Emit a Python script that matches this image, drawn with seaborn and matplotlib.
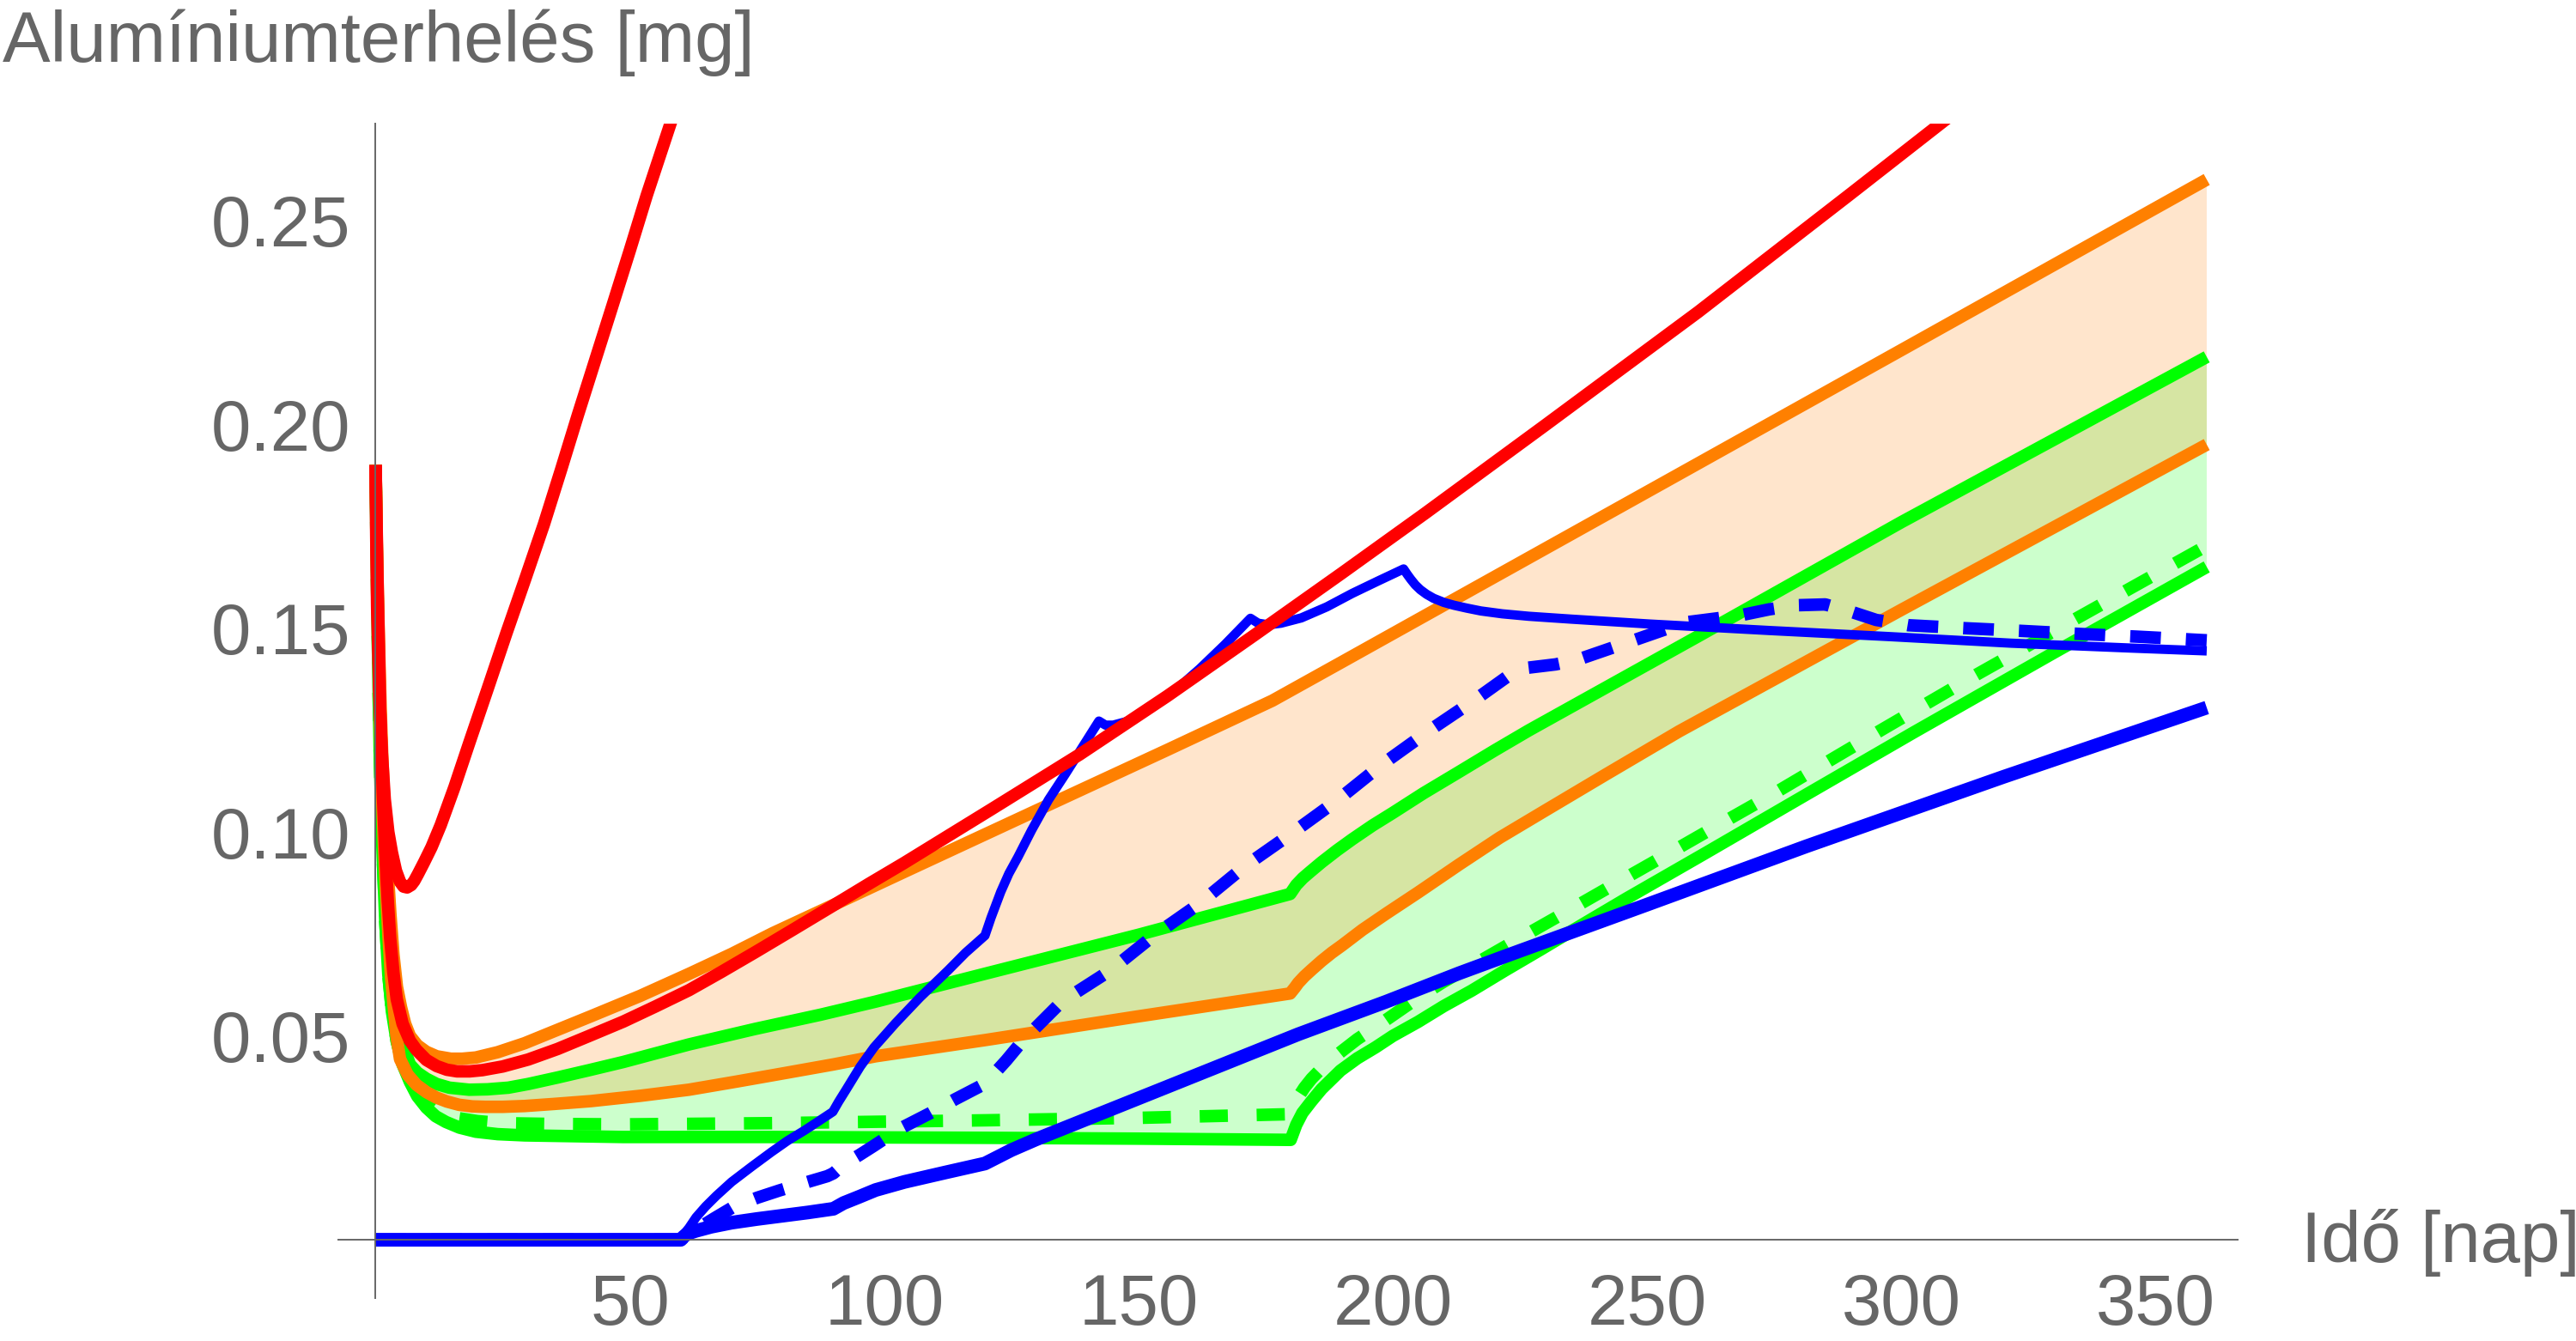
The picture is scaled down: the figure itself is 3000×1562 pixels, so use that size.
import numpy as np
import matplotlib
matplotlib.use("Agg")
import matplotlib.pyplot as plt
import seaborn as sns
from matplotlib.ticker import FixedLocator, MultipleLocator, FormatStrFormatter

# ---------------- data ----------------
days_red_steep = [0, 0.1, 0.3, 0.7, 1.2, 1.8, 2.5, 3.2, 4.0, 4.8, 5.5, 6.2, 7.0, 7.6, 8.3, 9.5, 11, 12.8,
                  15.5, 18.4, 22, 25.7, 29.4, 33.1, 36.5, 39.8, 43.2, 46.6, 50, 53.3, 58.1, 60.0]
red_steep = [0.190, 0.175, 0.155, 0.135, 0.120, 0.108, 0.100, 0.095, 0.0905, 0.0878, 0.0866, 0.0864,
             0.0870, 0.0880, 0.0896, 0.0925, 0.0963, 0.1017, 0.1110, 0.1218, 0.1350, 0.1487, 0.1620,
             0.1755, 0.1890, 0.2024, 0.2158, 0.2292, 0.2427, 0.2561, 0.2742, 0.2820]

days_red = [0, 0.2, 0.4, 0.65, 0.9, 1.15, 1.4, 1.9, 2.4, 2.86, 3.5, 4.16, 5.3, 6.74, 8, 9.97, 12, 14, 16,
            18.5, 21, 25, 30, 35.8, 42, 48.7, 55, 61.6, 68, 74.6, 82, 90, 97, 103.9, 121.1, 138.4, 155.6,
            172.8, 190, 206.4, 230, 260, 290, 310]
red_b = [0.190, 0.175, 0.160, 0.145, 0.130, 0.120, 0.110, 0.095, 0.083, 0.0740, 0.0655, 0.0590, 0.0530,
         0.0488, 0.0466, 0.0441, 0.0426, 0.0417, 0.0413, 0.0413, 0.0416, 0.0425, 0.0442, 0.0468, 0.0500,
         0.0535, 0.0572, 0.0612, 0.0657, 0.0705, 0.0760, 0.0820, 0.0873, 0.0924, 0.1056, 0.1190, 0.1333,
         0.1483, 0.1635, 0.1782, 0.1998, 0.2275, 0.2565, 0.2760]

days_orange_hi = [0, 0.25, 0.5, 0.75, 1, 1.3, 1.6, 2, 2.4, 2.9, 3.5, 4.2, 5, 5.8, 6.74, 8.2, 9.97, 12,
                  14.8, 17, 19.7, 24, 29.3, 35, 42.3, 52, 61.6, 70, 78.1, 90, 103.9, 129.8, 155.6, 176.3,
                  190, 213, 254, 300, 360]
orange_hi = [0.190, 0.170, 0.155, 0.142, 0.130, 0.119, 0.110, 0.099, 0.090, 0.080, 0.070, 0.062, 0.057,
             0.0530, 0.0500, 0.0477, 0.0461, 0.0450, 0.0444, 0.0444, 0.0447, 0.0460, 0.0482, 0.0511,
             0.0548, 0.0598, 0.0652, 0.0701, 0.0752, 0.0821, 0.0902, 0.1052, 0.1201, 0.1322, 0.1417,
             0.1577, 0.1862, 0.2182, 0.2600]

days_orange_lo = [0, 0.25, 0.5, 0.75, 1, 1.3, 1.6, 2, 2.5, 3, 3.5, 4.1, 4.8, 6.3, 8.03, 10, 11.9, 14,
                  16.4, 19, 21.6, 25, 29.3, 35, 42.3, 52, 61.6, 71, 81, 90, 98.3, 120, 150, 179.8, 180.7,
                  181.4, 182.6, 184, 186, 188, 190, 194, 198.7, 205, 213, 221, 230, 242, 256.3, 300, 360]
orange_lo = [0.190, 0.168, 0.150, 0.134, 0.120, 0.108, 0.098, 0.087, 0.075, 0.065, 0.058, 0.050, 0.0443,
             0.0405, 0.0380, 0.0362, 0.0349, 0.0339, 0.0331, 0.0327, 0.0326, 0.0326, 0.0328, 0.0333,
             0.0340, 0.0353, 0.0368, 0.0388, 0.0410, 0.0430, 0.0450, 0.0490, 0.0548, 0.0604, 0.0618,
             0.0630, 0.0646, 0.0662, 0.0684, 0.0704, 0.0722, 0.0760, 0.0800, 0.0852, 0.0920, 0.0986,
             0.1053, 0.1142, 0.1247, 0.1545, 0.1950]

days_green_hi = [0, 0.25, 0.5, 0.75, 1, 1.3, 1.6, 2, 2.5, 3.1, 3.8, 5, 5.8, 6.74, 8.2, 9.97, 12, 14.5,
                 18.4, 22, 26.1, 30, 35.8, 42, 48.7, 61.6, 74.6, 87.5, 98.3, 120, 150, 179.8, 181, 182.3,
                 183.7, 186, 189, 192, 196, 200, 206, 213.1, 220, 226.7, 260, 300, 360]
green_hi = [0.190, 0.168, 0.150, 0.136, 0.125, 0.112, 0.100, 0.089, 0.078, 0.068, 0.060, 0.050, 0.0462,
            0.0430, 0.0410, 0.0395, 0.0382, 0.0373, 0.0368, 0.0369, 0.0373, 0.0382, 0.0398, 0.0416,
            0.0436, 0.0479, 0.0517, 0.0552, 0.0584, 0.0653, 0.0748, 0.0848, 0.0870, 0.0887, 0.0902,
            0.0926, 0.0955, 0.0982, 0.1016, 0.1047, 0.1095, 0.1148, 0.1200, 0.1249, 0.1480, 0.1760,
            0.2165]

days_green_lo = [0, 0.2, 0.4, 0.6, 0.8, 1.1, 1.4, 1.9, 2.5, 3.2, 4.16, 5.3, 6.74, 8.2, 9.97, 11.8, 13.8,
                 16.5, 19.7, 24, 29.3, 48.7, 78, 120, 150, 179.9, 181, 182.2, 184, 186, 189.7, 193,
                 196.6, 200, 204.9, 210, 215.5, 222, 229.1, 237, 245.8, 261, 281.3, 302.5, 330, 360]
green_lo = [0.190, 0.168, 0.150, 0.134, 0.120, 0.105, 0.094, 0.078, 0.065, 0.056, 0.0486, 0.0430, 0.0387,
            0.0352, 0.0324, 0.0303, 0.0289, 0.0275, 0.0265, 0.0259, 0.0256, 0.0252, 0.0252, 0.0250,
            0.0248, 0.0245, 0.0282, 0.0311, 0.0340, 0.0370, 0.0415, 0.0445, 0.0472, 0.0500, 0.0534,
            0.0573, 0.0611, 0.0660, 0.0712, 0.0771, 0.0836, 0.0945, 0.1092, 0.1245, 0.1440, 0.1650]

days_green_dash = [0, 0.2, 0.4, 0.6, 0.8, 1.1, 1.4, 1.9, 2.5, 3.2, 4.16, 5.3, 6.74, 8.2, 9.97, 11.5, 13,
                   14.7, 16.4, 20, 24.8, 35, 48.7, 78, 120, 150, 179.9, 180.5, 181.4, 182.6, 184, 185.8,
                   187.5, 190, 193, 196.9, 200.5, 204.9, 210, 215.5, 225.7, 235.6, 245.4, 255.3, 265.1,
                   275, 296, 313.2, 332.7, 352.8, 360]
green_dash = [0.190, 0.168, 0.150, 0.134, 0.120, 0.105, 0.094, 0.078, 0.065, 0.056, 0.0486, 0.0432,
              0.0390, 0.0360, 0.0335, 0.0320, 0.0310, 0.0303, 0.0298, 0.0291, 0.0286, 0.0284, 0.0283,
              0.0286, 0.0293, 0.0299, 0.0308, 0.0330, 0.0350, 0.0373, 0.0395, 0.0418, 0.0438, 0.0463,
              0.0492, 0.0524, 0.0555, 0.0593, 0.0633, 0.0672, 0.0745, 0.0815, 0.0885, 0.0955, 0.1025,
              0.1095, 0.1250, 0.1375, 0.1512, 0.1652, 0.1702]

days_blue_hi = [0, 60, 60.5, 61.6, 63, 64.9, 67, 70, 74, 77.8, 81, 84.3, 87, 89.9, 91, 92.5, 95.3, 98,
                102.2, 107, 112.5, 116, 119.8, 121, 122.9, 124.5, 126.3, 129, 132.3, 135.5, 138.4, 142.2,
                143.5, 145, 148, 152, 157, 162, 167, 172, 173.5, 175.5, 178, 182, 187, 192, 197, 202.1,
                202.8, 203.5, 204.4, 205.4, 206.6, 208, 210, 212, 214.5, 217.3, 221.5, 226.7, 235, 250.4,
                274.1, 297.8, 321.5, 345.1, 360]
blue_hi = [0, 0, 0.0012, 0.0029, 0.0055, 0.0082, 0.0108, 0.0142, 0.0180, 0.0215, 0.0243, 0.0268, 0.0290,
           0.0314, 0.0338, 0.0368, 0.0425, 0.0472, 0.0531, 0.0594, 0.0660, 0.0704, 0.0746, 0.0790, 0.0853,
           0.0898, 0.0939, 0.1005, 0.1079, 0.1140, 0.1197, 0.1272, 0.1262, 0.1262, 0.1272, 0.1300, 0.1345,
           0.1400, 0.1460, 0.1524, 0.1512, 0.1508, 0.1512, 0.1525, 0.1552, 0.1585, 0.1615, 0.1645, 0.1632,
           0.1620, 0.1606, 0.1594, 0.1583, 0.1573, 0.1563, 0.1556, 0.1549, 0.1542, 0.1535, 0.1529, 0.1522,
           0.1510, 0.1494, 0.1479, 0.1463, 0.1451, 0.1444]

days_blue_dash = [0, 60, 63, 66.5, 70, 75, 79.4, 85, 88.8, 90, 92, 95, 97.9, 103, 109.1, 114, 119.4, 120,
                  124, 127.2, 134.9, 144.4, 153, 161.6, 171.1, 179.7, 189.2, 197.8, 207.3, 216.1, 224.4,
                  226, 228, 232, 236.2, 246.9, 257.5, 268.2, 274, 279.4, 285, 290.1, 295, 301.3, 312,
                  323.8, 334.5, 346.3, 360]
blue_dash = [0, 0, 0.0025, 0.0052, 0.0078, 0.0103, 0.0121, 0.0142, 0.0156, 0.0163, 0.0185, 0.0207, 0.0230,
             0.0272, 0.0311, 0.0345, 0.0380, 0.0385, 0.0440, 0.0488, 0.0584, 0.0660, 0.0746, 0.0821, 0.0918,
             0.0993, 0.1079, 0.1165, 0.1250, 0.1324, 0.1398, 0.1402, 0.1405, 0.1411, 0.1422, 0.1468,
             0.1514, 0.1531, 0.1546, 0.1556, 0.1558, 0.1540, 0.1520, 0.1507, 0.1500, 0.1493, 0.1486,
             0.1479, 0.1470]

days_blue_lo = [0, 60, 60.5, 61, 62, 63, 66, 70, 75, 80, 85, 90, 92, 95, 98.3, 104, 112, 119.8, 125, 129.8,
                147, 164.2, 181.4, 198.7, 213.1, 223.1, 250, 281.3, 320, 360]
blue_lo = [0, 0, 0.0007, 0.0012, 0.0018, 0.0022, 0.0032, 0.0042, 0.0051, 0.0059, 0.0067, 0.0076, 0.0090,
           0.0105, 0.0122, 0.0142, 0.0165, 0.0187, 0.0220, 0.0246, 0.0332, 0.0418, 0.0504, 0.0584, 0.0654,
           0.0700, 0.0822, 0.0965, 0.1135, 0.1305]

x_ticks = [50, 100, 150, 200, 250, 300, 350]
y_ticks = [0.05, 0.10, 0.15, 0.20, 0.25]
x_label = "Idő [nap]"
y_label = "Alumíniumterhelés [mg]"

# ---------------- style ----------------
sns.set_style("white")
plt.rcParams['font.family'] = ['Liberation Sans', 'DejaVu Sans']
GRAY = '#666666'
RED, ORANGE, GREEN, BLUE = '#FF0000', '#FF8000', '#00FF00', '#0000FF'
FS = 60

fig = plt.figure(figsize=(30, 15.62), dpi=100)
ax = fig.add_axes([0.1312, 0.032, 0.7373, 0.8761])
ax.set_xlim(-7.4, 366)
ax.set_ylim(-0.0143, 0.2738)

# fills (polygon from upper curve forward + lower curve backward)
gx = list(days_green_hi) + list(days_green_lo)[::-1]
gy = list(green_hi) + list(green_lo)[::-1]
ax.fill(gx, gy, color=GREEN, alpha=0.2, lw=0, zorder=1)
ox = list(days_orange_hi) + list(days_orange_lo)[::-1]
oy = list(orange_hi) + list(orange_lo)[::-1]
ax.fill(ox, oy, color=ORANGE, alpha=0.2, lw=0, zorder=1.1)

LW = 10.5


def draw(x, y, color, lw, z, dashes=None):
    sns.lineplot(x=x, y=y, ax=ax, color=color, linewidth=lw, estimator=None, sort=False,
                 zorder=z)
    ln = ax.lines[-1]
    ln.set_linewidth(lw)
    ln.set_solid_capstyle('butt')
    ln.set_solid_joinstyle('round')
    if dashes is not None:
        ln.set_dashes(dashes)
        ln.set_dash_capstyle('butt')
    return ln


draw(days_green_lo, green_lo, GREEN, LW, 2)
draw(days_green_dash, green_dash, GREEN, LW, 2.05, dashes=[2.25, 2.3])
draw(days_green_hi, green_hi, GREEN, LW, 2.1)
draw(days_orange_lo, orange_lo, ORANGE, LW, 2.2)
draw(days_orange_hi, orange_hi, ORANGE, LW, 2.3)
draw(days_blue_lo, blue_lo, BLUE, LW + 1.0, 3)
draw(days_blue_hi, blue_hi, BLUE, 7.8, 3.1)
draw(days_blue_dash, blue_dash, BLUE, LW, 3.2, dashes=[2.45, 2.0])
draw(days_red, red_b, RED, LW, 4)
draw(days_red_steep, red_steep, RED, LW, 4.1)

# ---------------- axes (Mathematica-like, crossing at origin) ----------------
for s in ['top', 'right']:
    ax.spines[s].set_visible(False)
ax.spines['left'].set_position(('data', 0))
ax.spines['bottom'].set_position(('data', 0))
for s in ['left', 'bottom']:
    ax.spines[s].set_color(GRAY)
    ax.spines[s].set_linewidth(1.4)
    ax.spines[s].set_zorder(10)

ax.xaxis.set_major_locator(FixedLocator(x_ticks))
ax.yaxis.set_major_locator(FixedLocator(y_ticks))
ax.xaxis.set_minor_locator(MultipleLocator(10))
ax.yaxis.set_minor_locator(MultipleLocator(0.01))
ax.xaxis.set_major_formatter(FormatStrFormatter('%d'))
ax.yaxis.set_major_formatter(FormatStrFormatter('%.2f'))
ax.tick_params(axis='both', which='major', direction='in', length=3.8, width=1.1, colors=GRAY,
               labelsize=FS, labelcolor=GRAY)
ax.tick_params(axis='both', which='minor', direction='in', length=2.2, width=1.0, colors=GRAY)
ax.tick_params(axis='x', which='major', pad=27)
ax.tick_params(axis='y', which='major', pad=21)
ax.xaxis.set_zorder(10)
ax.yaxis.set_zorder(10)
ax.set_xlabel('')
ax.set_ylabel('')
ax.grid(False)

fig.text(0.001, (1562 - 72) / 1562, y_label, fontsize=FS, color=GRAY, ha='left', va='baseline')
fig.text(2680 / 3000, (1562 - 1470) / 1562, x_label, fontsize=FS, color=GRAY, ha='left', va='baseline')

fig.savefig('out.png', dpi=100, facecolor='white')
